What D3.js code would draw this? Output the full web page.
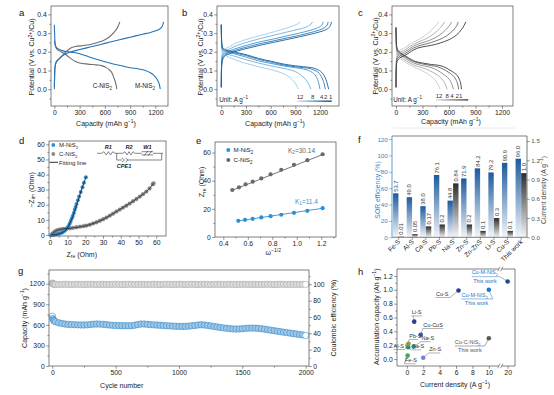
<!DOCTYPE html>
<html><head><meta charset="utf-8">
<script src="https://cdn.jsdelivr.net/npm/d3@7/dist/d3.min.js"></script>
<style>
body{margin:0;background:#fff}
svg text{font-family:"Liberation Sans",Arial,sans-serif}
</style></head>
<body>
<svg id="fig" width="554" height="395"></svg>
<script>
// ---- a: charge/discharge, [capacity, potential]
var aMDischarge = [[0,0.345],[2,0.31],[5,0.27],[10,0.24],[20,0.225],[50,0.215],[100,0.205],[200,0.198],[300,0.19],[400,0.175],[500,0.16],[600,0.147],[700,0.135],[800,0.125],[900,0.115],[1000,0.108],[1080,0.1],[1140,0.088],[1180,0.075],[1210,0.06],[1235,0.04],[1250,0.02],[1258,0]];
var aMCharge = [[0,0.01],[2,0.06],[5,0.1],[10,0.125],[25,0.145],[50,0.16],[100,0.18],[200,0.2],[300,0.212],[450,0.228],[600,0.245],[750,0.262],[900,0.278],[1050,0.294],[1150,0.305],[1220,0.315],[1260,0.325],[1285,0.34],[1298,0.36]];
var aCDischarge = [[0,0.26],[10,0.235],[30,0.215],[60,0.205],[100,0.195],[150,0.18],[200,0.162],[250,0.148],[300,0.14],[400,0.134],[500,0.13],[560,0.126],[610,0.117],[650,0.105],[680,0.09],[700,0.07],[720,0.045],[735,0.02],[742,0]];
var aCCharge = [[0,0],[3,0.07],[8,0.12],[20,0.145],[50,0.16],[100,0.182],[150,0.205],[200,0.222],[250,0.228],[350,0.234],[450,0.242],[530,0.252],[600,0.265],[660,0.282],[710,0.305],[750,0.33],[778,0.36]];

// ---- b, c: rate curves, order 12, 8, 4, 2, 1 A/g
var rates = ['12', '8', '4', '2', '1'];
var bDischarge = [
  [[0,0.345],[3,0.24],[8,0.205],[20,0.19],[60,0.178],[150,0.16],[300,0.138],[450,0.12],[600,0.105],[700,0.092],[780,0.078],[840,0.06],[885,0.04],[915,0.02],[935,0]],
  [[0,0.345],[3,0.25],[8,0.215],[20,0.2],[60,0.19],[150,0.178],[300,0.158],[450,0.14],[600,0.125],[750,0.112],[850,0.102],[920,0.09],[980,0.07],[1030,0.05],[1065,0.025],[1090,0]],
  [[0,0.345],[3,0.26],[8,0.225],[20,0.21],[60,0.2],[150,0.19],[300,0.172],[450,0.152],[600,0.138],[750,0.125],[900,0.115],[1000,0.108],[1060,0.1],[1110,0.088],[1150,0.07],[1180,0.04],[1200,0]],
  [[0,0.345],[3,0.27],[8,0.235],[20,0.215],[60,0.205],[150,0.195],[300,0.18],[450,0.16],[600,0.145],[750,0.13],[900,0.12],[1000,0.115],[1080,0.11],[1140,0.1],[1190,0.085],[1225,0.06],[1250,0.03],[1265,0]],
  [[0,0.345],[3,0.28],[8,0.24],[20,0.22],[60,0.21],[150,0.2],[300,0.185],[450,0.165],[600,0.15],[750,0.135],[900,0.125],[1000,0.12],[1100,0.115],[1170,0.105],[1220,0.09],[1260,0.065],[1285,0.035],[1305,0]]
];
var bCharge = [
  [[0,0.01],[2,0.12],[6,0.17],[15,0.195],[40,0.21],[100,0.228],[200,0.25],[350,0.272],[500,0.29],[650,0.308],[780,0.325],[880,0.34],[930,0.35],[960,0.36]],
  [[0,0.01],[2,0.11],[6,0.16],[15,0.185],[40,0.2],[100,0.215],[200,0.235],[350,0.256],[500,0.274],[650,0.29],[800,0.306],[950,0.322],[1050,0.336],[1090,0.348],[1110,0.36]],
  [[0,0.01],[2,0.1],[6,0.15],[15,0.175],[40,0.19],[100,0.205],[200,0.22],[350,0.24],[500,0.256],[650,0.27],[800,0.285],[950,0.3],[1080,0.315],[1170,0.328],[1220,0.342],[1240,0.36]],
  [[0,0.01],[2,0.09],[6,0.14],[15,0.165],[40,0.182],[100,0.197],[200,0.212],[350,0.23],[500,0.246],[650,0.26],[800,0.274],[950,0.288],[1080,0.302],[1180,0.315],[1250,0.328],[1285,0.342],[1300,0.36]],
  [[0,0.01],[2,0.08],[6,0.13],[15,0.155],[40,0.175],[100,0.19],[200,0.205],[350,0.222],[500,0.238],[650,0.252],[800,0.266],[950,0.28],[1100,0.295],[1200,0.307],[1270,0.318],[1310,0.33],[1330,0.345],[1340,0.36]]
];
var cDischarge = [
  [[0,0.33],[3,0.23],[8,0.195],[20,0.178],[50,0.162],[100,0.146],[150,0.132],[200,0.12],[260,0.107],[320,0.093],[380,0.075],[430,0.055],[470,0.03],[500,0]],
  [[0,0.33],[3,0.24],[8,0.205],[20,0.188],[50,0.172],[100,0.156],[150,0.142],[200,0.13],[280,0.117],[350,0.106],[410,0.092],[470,0.075],[520,0.055],[555,0.03],[580,0]],
  [[0,0.33],[3,0.25],[8,0.215],[20,0.197],[50,0.182],[100,0.167],[150,0.152],[200,0.14],[300,0.126],[380,0.118],[440,0.108],[500,0.092],[550,0.075],[600,0.055],[630,0.03],[650,0]],
  [[0,0.33],[3,0.26],[8,0.225],[20,0.205],[50,0.19],[100,0.175],[150,0.16],[200,0.148],[300,0.135],[400,0.126],[470,0.12],[530,0.108],[590,0.092],[640,0.075],[680,0.05],[700,0.025],[710,0]],
  [[0,0.33],[3,0.27],[8,0.23],[20,0.21],[50,0.195],[100,0.18],[150,0.165],[200,0.152],[300,0.14],[400,0.132],[480,0.128],[540,0.12],[600,0.105],[650,0.09],[690,0.075],[720,0.05],[735,0.025],[742,0]]
];
var cCharge = [
  [[0,0.01],[2,0.12],[6,0.17],[15,0.19],[40,0.205],[100,0.222],[150,0.238],[200,0.252],[260,0.267],[330,0.287],[390,0.31],[440,0.334],[470,0.35],[485,0.36]],
  [[0,0.01],[2,0.11],[6,0.16],[15,0.18],[40,0.195],[100,0.21],[150,0.226],[200,0.24],[260,0.254],[340,0.27],[410,0.29],[470,0.314],[520,0.338],[550,0.36]],
  [[0,0.01],[2,0.1],[6,0.15],[15,0.17],[40,0.185],[100,0.2],[150,0.215],[200,0.23],[260,0.243],[350,0.256],[430,0.272],[500,0.292],[560,0.316],[605,0.34],[630,0.36]],
  [[0,0.01],[2,0.09],[6,0.14],[15,0.16],[40,0.175],[100,0.19],[150,0.205],[200,0.22],[260,0.232],[350,0.243],[450,0.258],[540,0.276],[610,0.298],[660,0.322],[690,0.342],[705,0.36]],
  [[0,0.01],[2,0.08],[6,0.13],[15,0.15],[40,0.165],[100,0.18],[150,0.195],[200,0.21],[260,0.222],[350,0.23],[450,0.24],[550,0.255],[630,0.272],[690,0.292],[740,0.318],[770,0.34],[790,0.36]]
];

// ---- d: Nyquist [Zre, -Zim]
var dMNiS2 = [[1,0],[2,0.1],[3,0.3],[4,0.5],[5,0.8],[6,1.2],[7,1.7],[8,2.4],[9,3.4],[9.8,4.6],[10.5,6],[11.2,7.6],[11.8,9.3],[12.4,11],[12.9,12.6],[13.5,14.6],[14,16.6],[14.5,18.5],[15,20.5],[15.8,23],[16.5,25.4],[17.4,28.5],[18.4,31.6],[19.2,34.5],[20.3,38.2]];
var dCNiS2 = [[0.8,0],[1.5,0.8],[2.2,1.6],[2.8,2.2],[3.6,2.8],[4.7,3.3],[6,3.7],[7.5,4],[9.2,4.2],[11.3,4.4],[13,4.7],[15,5.1],[17,5.5],[19,5.9],[20.6,6.2],[22.5,6.8],[24.4,7.6],[26.3,8.4],[28.2,9.4],[30,10.4],[31.9,11.5],[33.8,12.8],[35.6,14.1],[37.5,15.5],[39.4,16.8],[41.2,18.1],[43.1,19.4],[45,20.8],[46.9,22.3],[48.8,23.8],[50.7,25.4],[52.5,27],[54.4,28.7],[56.2,30.8],[58.1,33.6],[58.5,34.2]];
var dMFit = [[1,0],[4,0.4],[7,1.6],[9,3.2],[10.5,5.8],[12,9.5],[13.5,14],[15,19.5],[16.5,25],[18,30.5],[19.5,35.5],[20.5,38.8]];
var dCFit = [[0.8,0],[2,1.4],[3.5,2.7],[5.5,3.6],[8,4.1],[11,4.4],[15,5],[20,6],[25,7.8],[30,10.3],[35,13.6],[40,17.3],[45,20.9],[50,24.8],[54,28.3],[56.5,31],[58.5,34.5]];

// ---- e: Zre vs w^-1/2
var eMX = [0.522,0.577,0.64,0.71,0.786,0.873,0.977,1.086,1.211];
var eMY = [11.5,12.2,12.9,13.9,14.8,15.8,17.2,18.6,20.5];
var eCX = [0.473,0.528,0.582,0.64,0.71,0.786,0.873,0.977,1.086,1.211];
var eCY = [33.4,35.3,37.4,39.3,41.6,44.5,47.8,51.3,54.6,58.8];
var eMFit = [[0.522,11.4],[1.211,20.4]];
var eCFit = [[0.473,33.2],[1.211,58.6]];

// ---- f: SOR efficiency and current density
var fCats = ['Fe-S','Al-S','Ca-S','Pb-S','Na-S','Zn-S','Zn-ZnS','Li-S','Cu-S','This work'];
var fSor = [53.7,49.0,38.0,76.1,44.8,71.9,84.2,79.2,90.9,96.0];
var fCurrent = [0.01,0.05,0.17,0.2,0.84,0.2,0.1,0.3,0.1,1.0];
var fSorLabels = ['53.7','49.0','38.0','76.1','44.8','71.9','84.2','79.2','90.9','96.0'];
var fCurLabels = ['0.01','0.05','0.17','0.2','0.84','0.2','0.1','0.3','0.1','1.0'];

// ---- g: cycling
var gCycles = [1,5,10,15,25,50,75,100,125,150,175,200,225,250,275,300,325,350,375,400,425,450,475,500,525,550,575,600,625,650,675,700,725,750,775,800,825,850,875,900,925,950,975,1000,1025,1050,1075,1100,1125,1150,1175,1200,1225,1250,1275,1300,1325,1350,1375,1400,1425,1450,1475,1500,1525,1550,1575,1600,1625,1650,1675,1700,1725,1750,1775,1800,1825,1850,1875,1900,1925,1950,1975,2000];
var gCapacity = [725,690,670,658,646,630,620,612,607,604,602,600,599,598,600,605,610,612,611,608,603,598,594,591,589,588,587,586,588,595,605,612,612,608,603,600,597,594,591,588,585,582,580,578,577,578,581,586,592,598,601,598,592,585,577,570,563,556,550,545,541,539,540,544,549,552,553,552,549,544,537,530,522,515,508,501,494,487,480,473,467,460,454,445];
var gCE = [101.5,100.6,100.2,100,99.9,99.8,99.9,100,99.9,99.8,99.9,100,99.9,99.8,99.9,100,99.9,99.8,99.9,100,99.9,99.8,99.9,100,99.9,99.8,99.9,100,99.9,99.8,99.9,100,99.9,99.8,99.9,100,99.9,99.8,99.9,100,99.9,99.8,99.9,100,99.9,99.8,99.9,100,99.9,99.8,99.9,100,99.9,99.8,99.9,100,99.9,99.8,99.9,100,99.9,99.8,99.9,100,99.9,99.8,99.9,100,99.9,99.8,99.9,100,99.9,99.8,99.9,100,99.9,99.8,99.9,100,99.9,99.8,99.9,99.9];

// ---- h: accumulation capacity vs current density
var hNames = ['Fe-S','Al-S','Ca-S','Pb-S','Na-S','Zn-S','Li-S','Cu-CuS','Cu-S','Cu-M-NiS2','Cu-C-NiS2','Cu-M-NiS2'];
var hCurrent = [0.1,0.05,0.17,0.2,0.84,2.0,0.9,1.7,6.3,10,10,20];
var hCapacity = [0.05,0.2,0.17,0.22,0.18,0.02,0.54,0.35,0.99,1.0,0.3,1.12];
var hThisWork = [false,false,false,false,false,false,false,false,false,true,true,true];

// ---- styles / layout
var ink = '#4a4a4a', txt = '#222';
var blue = '#2473b8', grey = '#6e6e6e';
var bColors = ['#9ccbea','#6fafdc','#4592cb','#2a7aba','#14609f'];
var cColors = ['#c8c8c8','#a8a8a8','#888888','#666666','#3c3c3c'];
var hColors = ['#3fae49','#b8bb3a','#2d8c78','#8e9a3c','#2a7f8f','#7a80d8','#2c3e8c','#3b52a5','#2d3f80','#1f78c9','#5a5a5a','#1f4d8a'];
// label offsets relative to each point: text pos, underline span / height, leader end
var hLayout = [
  {tx:-2.7,ty:6.6,u0:-3.5,u1:8,uy:8.1,lx:-3.5},
  {tx:-13.7,ty:2.8,u0:-13.7,u1:-2.5,uy:4.3,lx:-2.5},
  {tx:3.5,ty:1.2,u0:3,u1:13,uy:2.6,lx:3},
  {tx:0.8,ty:-5.8,u0:0.5,u1:9.5,uy:-4.3,lx:0.5},
  {tx:7.8,ty:-6.4,u0:7.3,u1:17,uy:-4.9,lx:7.3},
  {tx:6,ty:-6.2,u0:5.5,u1:17,uy:-4.7,lx:5.5},
  {tx:-2.5,ty:-7.2,u0:-3,u1:8,uy:-5.7,lx:-1},
  {tx:2.5,ty:-7.8,u0:2,u1:22.5,uy:-6.3,lx:2},
  {tx:-22.5,ty:5.5,u0:-23,u1:-8.5,uy:7,lx:-8.5},
  {tx:-27.3,ty:7.2,u0:-27.5,u1:4,uy:9.2,lx:4,wx:-24,wy:15.7},
  {tx:-34,ty:6,u0:-34,u1:-4,uy:7.7,lx:-4,wx:-30.7,wy:14.2},
  {tx:-36,ty:-7,u0:-36,u1:-8,uy:-4.8,lx:-8,wx:-34.5,wy:1.8}
];

var svg = d3.select('#fig');
var defs = svg.append('defs');
function grad(id, c0, c1, horiz) {
  var g = defs.append('linearGradient').attr('id', id)
    .attr('x1', 0).attr('y1', 0).attr('x2', horiz ? 1 : 0).attr('y2', horiz ? 0 : 1);
  g.append('stop').attr('offset', '0%').attr('stop-color', c0);
  g.append('stop').attr('offset', '100%').attr('stop-color', c1);
}
grad('gBlue', '#1c5a9c', '#f2f6fb');
grad('gGrey', '#2c2c2c', '#f4f4f4');
grad('gRateB', '#d3e7f5', '#14609f', true);
grad('gRateC', '#e6e6e6', '#555555', true);

// text with sub/superscripts: parts = [[text, 'sup'|'sub'|undefined], ...]
function rich(t, parts) {
  var cur = 0;
  parts.forEach(function(p) {
    var off = p[1] === 'sup' ? -2.6 : p[1] === 'sub' ? 1.6 : 0;
    var s = t.append('tspan').attr('dy', off - cur).text(p[0]);
    if (p[1]) s.attr('font-size', '0.72em');
    cur = off;
  });
  return t;
}
function label(g, x, y, parts, opt) {
  opt = opt || {};
  var t = g.append('text').attr('font-size', opt.size || 7).attr('fill', opt.color || txt)
    .attr('text-anchor', opt.anchor || 'start')
    .attr('transform', 'translate(' + x + ',' + y + ')' + (opt.rot ? ' rotate(' + opt.rot + ')' : ''));
  return rich(t, typeof parts === 'string' ? [[parts]] : parts);
}
function ticks(g, side, scale, major, minor, fmt, at, col, fs) {
  var gen = {b: d3.axisBottom, l: d3.axisLeft, r: d3.axisRight}[side];
  var tr = side === 'b' ? 'translate(0,' + at + ')' : 'translate(' + at + ',0)';
  [[minor, 1.6, null], [major, 2.8, fmt]].forEach(function(s) {
    if (!s[0] || !s[0].length) return;
    var a = g.append('g').attr('transform', tr)
      .call(gen(scale).tickValues(s[0]).tickSizeInner(s[1]).tickSizeOuter(0).tickPadding(1.5)
        .tickFormat(s[2] || function() { return ''; }));
    a.select('.domain').remove();
    a.selectAll('line').attr('stroke', col || ink).attr('stroke-width', 0.6);
    a.selectAll('text').attr('font-size', fs || 6.8).attr('fill', col || txt);
  });
}
function box(g, w, h) {
  g.append('rect').attr('width', w).attr('height', h).attr('fill', 'none')
    .attr('stroke', ink).attr('stroke-width', 0.7);
}
function letter(ch, x, y) {
  svg.append('text').attr('x', x).attr('y', y).attr('font-size', 9.5).attr('fill', '#111').text(ch);
}
var f1 = d3.format('.1f'), fd = d3.format('d');
var capT = [['Capacity (mAh g'], ['\u22121', 'sup'], [')']];
var potT = [['Potential (V vs. Cu'], ['2+', 'sup'], ['/Cu)']];

// ================= a =================
var ga = svg.append('g').attr('transform', 'translate(51,6)');
var xa = d3.scaleLinear().domain([-40, 1350]).range([0, 117]);
var ya = d3.scaleLinear().domain([-0.09, 0.445]).range([100, 0]);
var lineA = d3.line().x(function(d) { return xa(d[0]); }).y(function(d) { return ya(d[1]); }).curve(d3.curveMonotoneX);
[[aCDischarge, grey], [aCCharge, grey], [aMDischarge, blue], [aMCharge, blue]].forEach(function(s) {
  ga.append('path').attr('d', lineA(s[0])).attr('fill', 'none').attr('stroke', s[1]).attr('stroke-width', 1.1);
});
box(ga, 117, 100);
ticks(ga, 'b', xa, [0, 300, 600, 900, 1200], [150, 450, 750, 1050], fd, 100);
ticks(ga, 'l', ya, [0, 0.1, 0.2, 0.3, 0.4], [-0.05, 0.05, 0.15, 0.25, 0.35], f1, 0);
label(ga, xa(455), ya(0.005), [['C-NiS'], ['2', 'sub']], {size: 6.3});
label(ga, xa(957), ya(0.005), [['M-NiS'], ['2', 'sub']], {size: 6.3});
label(svg, 106, 125.5, capT, {anchor: 'middle'});
label(svg, 34.2, 57, potT, {anchor: 'middle', rot: -90});
letter('a', 19, 16);

// ================= b / c =================
function ratePanel(tx, w, xdom, dis, ch, colors, gradId, labelX, barX, unitX, lineY, barY) {
  var g = svg.append('g').attr('transform', 'translate(' + tx + ',6)');
  var x = d3.scaleLinear().domain(xdom).range([0, w]);
  var y = d3.scaleLinear().domain([-0.09, 0.445]).range([100, 0]);
  var ln = d3.line().x(function(d) { return x(d[0]); }).y(function(d) { return y(d[1]); }).curve(d3.curveMonotoneX);
  rates.forEach(function(r, i) {
    g.append('path').attr('d', ln(dis[i])).attr('fill', 'none').attr('stroke', colors[i]).attr('stroke-width', 0.9);
    g.append('path').attr('d', ln(ch[i])).attr('fill', 'none').attr('stroke', colors[i]).attr('stroke-width', 0.9);
  });
  box(g, w, 100);
  ticks(g, 'b', x, [0, 300, 600, 900, 1200], [150, 450, 750, 1050], fd, 100);
  ticks(g, 'l', y, [0, 0.1, 0.2, 0.3, 0.4], [-0.05, 0.05, 0.15, 0.25, 0.35], f1, 0);
  rates.forEach(function(r, i) {
    g.append('text').attr('x', x(labelX[i])).attr('y', y(lineY)).attr('font-size', 6)
      .attr('text-anchor', 'middle').attr('fill', '#333').text(r);
  });
  g.append('rect').attr('x', x(barX[0])).attr('width', x(barX[1]) - x(barX[0]))
    .attr('y', y(barY)).attr('height', 1.6).attr('fill', 'url(#' + gradId + ')');
  label(g, x(unitX), y(-0.0665), [['Unit: A g'], ['\u22121', 'sup']], {size: 6.3});
  return g;
}
ratePanel(217, 122, [-52, 1431], bDischarge, bCharge, bColors, 'gRateB',
  [957, 1111, 1221, 1270, 1330], [924, 1342], -24, -0.052, -0.06);
label(svg, 275, 125.5, capT, {anchor: 'middle'});
label(svg, 202.5, 57, potT, {anchor: 'middle', rot: -90});
letter('b', 182, 16);

ratePanel(392, 121, [-45, 1325], cDischarge, cCharge, cColors, 'gRateC',
  [487, 581, 634, 694, 732], [453, 818], -30, -0.046, -0.053);
label(svg, 451, 124, capT, {anchor: 'middle'});
label(svg, 377.5, 56, potT, {anchor: 'middle', rot: -90});
letter('c', 358, 16);
svg.append('line').attr('x1', 393).attr('x2', 515).attr('y1', 128).attr('y2', 128)
  .attr('stroke', '#e6e6e6').attr('stroke-width', 0.8);

// ================= d =================
var gd = svg.append('g').attr('transform', 'translate(49,141)');
var xd = d3.scaleLinear().domain([-0.5, 65.5]).range([0, 117]);
var yd = d3.scaleLinear().domain([-0.7, 62.2]).range([95, 0]);
var lineD = d3.line().x(function(d) { return xd(d[0]); }).y(function(d) { return yd(d[1]); }).curve(d3.curveCatmullRom);
gd.selectAll('.pc').data(dCNiS2).enter().append('circle')
  .attr('cx', function(d) { return xd(d[0]); }).attr('cy', function(d) { return yd(d[1]); })
  .attr('r', 1.9).attr('fill', '#8a8a8a').attr('stroke', '#666').attr('stroke-width', 0.3);
gd.selectAll('.pm').data(dMNiS2).enter().append('circle')
  .attr('cx', function(d) { return xd(d[0]); }).attr('cy', function(d) { return yd(d[1]); })
  .attr('r', 2).attr('fill', '#2f8fd3');
gd.append('path').attr('d', lineD(dCFit)).attr('fill', 'none').attr('stroke', '#333').attr('stroke-width', 0.9);
gd.append('path').attr('d', lineD(dMFit)).attr('fill', 'none').attr('stroke', '#222').attr('stroke-width', 0.9);
box(gd, 117, 95);
ticks(gd, 'b', xd, [0, 10, 20, 30, 40, 50, 60], [5, 15, 25, 35, 45, 55], fd, 95);
ticks(gd, 'l', yd, [0, 10, 20, 30, 40, 50, 60], [5, 15, 25, 35, 45, 55], fd, 0);
// legend
gd.append('circle').attr('cx', 4.3).attr('cy', 4).attr('r', 1.9).attr('fill', '#2f8fd3');
label(gd, 10, 6.2, [['M-NiS'], ['2', 'sub']], {size: 6});
gd.append('circle').attr('cx', 4.3).attr('cy', 13).attr('r', 1.9).attr('fill', '#8a8a8a');
label(gd, 10, 15.2, [['C-NiS'], ['2', 'sub']], {size: 6});
gd.append('line').attr('x1', 0.5).attr('x2', 9).attr('y1', 21.3).attr('y2', 21.3).attr('stroke', '#333').attr('stroke-width', 1);
label(gd, 10, 23.5, 'Fitting line', {size: 6});
// equivalent circuit
(function() {
  var c = gd.append('g').attr('fill', 'none').attr('stroke', '#333').attr('stroke-width', 0.6);
  var y0 = 12.3, y1 = 19;
  function zig(x0, x1) {
    var n = 6, dx = (x1 - x0) / n, d = 'M' + x0 + ',' + y0;
    for (var i = 1; i < n; i++) d += ' L' + (x0 + dx * i) + ',' + (y0 + (i % 2 ? -1.6 : 1.6));
    return d + ' L' + x1 + ',' + y0;
  }
  c.append('path').attr('d', 'M48,' + y0 + ' H52.7' + zig(52.7, 66).replace('M', ' L') + ' H74' + zig(74, 86).replace('M', ' L') + ' H92.7 M104,' + y0 + ' H114');
  c.append('path').attr('d', 'M92.7,' + (y0 + 1.6) + ' L104,' + (y0 + 1.6) + ' M92.7,' + (y0 - 1.6) + ' L104,' + (y0 - 1.6) + ' M95,' + (y0 + 2.4) + ' L99,' + (y0 - 2.4) + ' M99,' + (y0 + 2.4) + ' L103,' + (y0 - 2.4));
  c.append('path').attr('d', 'M67.7,' + y0 + ' V' + y1 + ' H73 M79,' + y1 + ' H112.7 V' + y0);
  c.append('path').attr('d', 'M73,' + (y1 - 2) + ' L75.5,' + y1 + ' L73,' + (y1 + 2) + ' M76.5,' + (y1 - 2) + ' L79,' + y1 + ' L76.5,' + (y1 + 2));
  [['R1', 59.3, 7.5], ['R2', 80, 7.5], ['W1', 98.5, 7.5], ['CPE1', 75, 27.3]].forEach(function(t) {
    gd.append('text').attr('x', t[1]).attr('y', t[2]).attr('font-size', 5.6).attr('font-weight', 'bold')
      .attr('font-style', 'italic').attr('text-anchor', 'middle').attr('fill', '#222').text(t[0]);
  });
})();
label(svg, 81.7, 256.5, [['Z'], ['re', 'sub'], [' (Ohm)']], {anchor: 'middle'});
label(svg, 33.5, 190, [['\u2212Z'], ['im', 'sub'], [' (Ohm)']], {anchor: 'middle', rot: -90});
letter('d', 19, 144);

// ================= e =================
var ge = svg.append('g').attr('transform', 'translate(215,142)');
var xe = d3.scaleLinear().domain([0.332, 1.32]).range([0, 121]);
var ye = d3.scaleLinear().domain([0, 67.5]).range([95, 0]);
var lineE = d3.line().x(function(d) { return xe(d[0]); }).y(function(d) { return ye(d[1]); });
ge.append('path').attr('d', lineE(eCFit)).attr('stroke', '#666').attr('stroke-width', 0.9);
ge.append('path').attr('d', lineE(eMFit)).attr('stroke', '#2f8fd3').attr('stroke-width', 0.9);
ge.selectAll('.ec').data(eCX).enter().append('circle')
  .attr('cx', function(d) { return xe(d); }).attr('cy', function(d, i) { return ye(eCY[i]); })
  .attr('r', 2.1).attr('fill', '#6a6a6a');
ge.selectAll('.em').data(eMX).enter().append('circle')
  .attr('cx', function(d) { return xe(d); }).attr('cy', function(d, i) { return ye(eMY[i]); })
  .attr('r', 2.1).attr('fill', '#2f8fd3');
box(ge, 121, 95);
ticks(ge, 'b', xe, [0.4, 0.6, 0.8, 1.0, 1.2], [0.5, 0.7, 0.9, 1.1, 1.3], f1, 95);
ticks(ge, 'l', ye, [0, 20, 40, 60], [10, 30, 50], fd, 0);
ge.append('circle').attr('cx', 13.3).attr('cy', 8).attr('r', 2).attr('fill', '#2f8fd3');
label(ge, 18.5, 10.2, [['M-NiS'], ['2', 'sub']], {size: 6.2});
ge.append('circle').attr('cx', 13.3).attr('cy', 18).attr('r', 2).attr('fill', '#6a6a6a');
label(ge, 18.5, 20.2, [['C-NiS'], ['2', 'sub']], {size: 6.2});
label(ge, 73, 10.5, [['K'], ['2', 'sub'], ['=30.14']], {size: 6.5, color: '#666'});
label(ge, 80, 61.5, [['K'], ['1', 'sub'], ['=11.4']], {size: 6.5, color: '#2f8fd3'});
label(svg, 273.3, 254.5, [['\u03c9'], ['\u22121/2', 'sup']], {anchor: 'middle'});
label(svg, 204, 182, [['Z'], ['re', 'sub'], [' (Ohm)']], {anchor: 'middle', rot: -90});
letter('e', 196, 144);

// ================= f =================
var fblue = '#3a86c6';
var gf = svg.append('g').attr('transform', 'translate(392,136)');
var fw = 135, fh = 101.3;
var xf = d3.scaleBand().domain(fCats).range([0.8, fw]).paddingInner(0.18).paddingOuter(0.02);
var yfL = d3.scaleLinear().domain([0, 123.7]).range([fh, 0]);
var yfR = d3.scaleLinear().domain([0, 1.578]).range([fh, 0]);
var bw = xf.bandwidth() / 2;
gf.selectAll('.bs').data(fSor).enter().append('rect')
  .attr('x', function(d, i) { return xf(fCats[i]); }).attr('width', bw - 0.2)
  .attr('y', function(d) { return yfL(d); }).attr('height', function(d) { return fh - yfL(d); })
  .attr('fill', 'url(#gBlue)');
gf.selectAll('.bc').data(fCurrent).enter().append('rect')
  .attr('x', function(d, i) { return xf(fCats[i]) + bw; }).attr('width', bw - 0.2)
  .attr('y', function(d) { return yfR(d); }).attr('height', function(d) { return fh - yfR(d); })
  .attr('fill', 'url(#gGrey)');
fSor.forEach(function(v, i) {
  label(gf, xf(fCats[i]) + bw / 2 + 2, yfL(v) - 1.5, fSorLabels[i], {size: 5.8, rot: -90, color: '#333'});
  label(gf, xf(fCats[i]) + bw * 1.5 + 2, yfR(fCurrent[i]) - 2, fCurLabels[i], {size: 5.8, rot: -90, color: '#333'});
});
gf.append('line').attr('x1', 0).attr('x2', fw).attr('y1', 0).attr('y2', 0).attr('stroke', ink).attr('stroke-width', 0.7);
gf.append('line').attr('x1', 0).attr('x2', fw).attr('y1', fh).attr('y2', fh).attr('stroke', ink).attr('stroke-width', 0.7);
gf.append('line').attr('x1', 0).attr('x2', 0).attr('y1', 0).attr('y2', fh).attr('stroke', fblue).attr('stroke-width', 0.8);
gf.append('line').attr('x1', fw).attr('x2', fw).attr('y1', 0).attr('y2', fh).attr('stroke', '#555').attr('stroke-width', 0.8);
ticks(gf, 'l', yfL, [0, 20, 40, 60, 80, 100, 120], [], fd, 0, fblue, 6.2);
ticks(gf, 'r', yfR, [0, 0.3, 0.6, 0.9, 1.2, 1.5], [], f1, fw, '#555', 6.2);
var fx = gf.append('g').attr('transform', 'translate(0,' + fh + ')')
  .call(d3.axisBottom(xf).tickSizeInner(2.5).tickSizeOuter(0));
fx.select('.domain').remove();
fx.selectAll('line').attr('stroke', ink).attr('stroke-width', 0.6);
fx.selectAll('text').attr('font-size', 6.5).attr('fill', txt).attr('text-anchor', 'end')
  .attr('dy', null).attr('y', 0).attr('transform', 'translate(2,5) rotate(-45)');
label(svg, 379.5, 190, 'SOR efficiency (%)', {anchor: 'middle', rot: -90, color: fblue, size: 6.8});
label(svg, 546, 190, [['Current density (A g'], ['\u22121', 'sup'], [')']], {anchor: 'middle', rot: -90, color: '#444', size: 6.8});
letter('f', 358, 143);

// ================= g =================
var gg = svg.append('g').attr('transform', 'translate(49,270)');
var gw = 260, gh = 96;
var xg = d3.scaleLinear().domain([-26, 2026]).range([0, gw]);
var ygL = d3.scaleLinear().domain([0, 1400]).range([gh, 0]);
var ygR = d3.scaleLinear().domain([0, 117.5]).range([gh, 0]);
var lastG = gCycles.length - 1;
gg.selectAll('.ce').data(gCE).enter().append('circle')
  .attr('cx', function(d, i) { return xg(gCycles[i]); }).attr('cy', function(d) { return ygR(d); })
  .attr('r', 3.2).attr('fill', function(d, i) { return i === lastG ? '#fff' : '#dcdcdc'; })
  .attr('stroke', '#a6a6a6').attr('stroke-width', 0.6);
gg.selectAll('.cap').data(gCapacity).enter().append('circle')
  .attr('cx', function(d, i) { return xg(gCycles[i]); }).attr('cy', function(d) { return ygL(d); })
  .attr('r', 3.2).attr('fill', function(d, i) { return (i === 0 || i === lastG) ? '#fff' : '#9cc8e9'; })
  .attr('stroke', '#3b87c4').attr('stroke-width', 0.6);
box(gg, gw, gh);
ticks(gg, 'b', xg, [0, 500, 1000, 1500, 2000], [250, 750, 1250, 1750], fd, gh);
ticks(gg, 'l', ygL, [0, 300, 600, 900, 1200], [150, 450, 750, 1050, 1350], fd, 0);
ticks(gg, 'r', ygR, [0, 20, 40, 60, 80, 100], [10, 30, 50, 70, 90, 110], fd, gw);
label(svg, 121.7, 388, 'Cycle number', {anchor: 'middle'});
label(svg, 26.5, 318, capT, {anchor: 'middle', rot: -90});
label(svg, 336, 318, 'Coulombic efficiency (%)', {anchor: 'middle', rot: -90});
letter('g', 18, 274);

// ================= h =================
var gh2 = svg.append('g').attr('transform', 'translate(397,269)');
var hw = 118, hh = 97, brk = 103.3;
var xhL = d3.scaleLinear().domain([-1.2, 11.4]).range([0, brk]);
var xhR = d3.scaleLinear().domain([19, 21]).range([brk, hw]);
function xh(v) { return v > 15 ? xhR(v) : xhL(v); }
var yh = d3.scaleLinear().domain([-0.1, 1.3]).range([hh, 0]);
var hLine = '#666';
hNames.forEach(function(n, i) {
  var px = xh(hCurrent[i]), py = yh(hCapacity[i]), L = hLayout[i];
  var tc = hThisWork[i] ? (i === 10 ? '#555' : '#2a78c2') : '#333';
  gh2.append('line').attr('x1', px + L.u0).attr('x2', px + L.u1).attr('y1', py + L.uy).attr('y2', py + L.uy)
    .attr('stroke', hThisWork[i] ? tc : hLine).attr('stroke-width', 0.5);
  gh2.append('line').attr('x1', px + L.lx).attr('y1', py + L.uy).attr('x2', px).attr('y2', py)
    .attr('stroke', hThisWork[i] ? tc : hLine).attr('stroke-width', 0.5);
  var parts = n.slice(-4) === 'NiS2' ? [[n.slice(0, -1)], ['2', 'sub']] : [[n]];
  label(gh2, px + L.tx, py + L.ty, parts, {size: 5.5, color: tc});
  if (hThisWork[i]) label(gh2, px + L.wx, py + L.wy, 'This work', {size: 5.5, color: tc});
});
gh2.selectAll('.hp').data(hCapacity).enter().append('circle')
  .attr('cx', function(d, i) { return xh(hCurrent[i]); }).attr('cy', function(d) { return yh(d); })
  .attr('r', 2.3).attr('fill', function(d, i) { return hColors[i]; });
gh2.append('path').attr('fill', 'none').attr('stroke', ink).attr('stroke-width', 0.7)
  .attr('d', 'M' + (brk - 1.4) + ',0 H0 V' + hh + ' H' + (brk - 1.4) + ' M' + (brk + 1.4) + ',' + hh + ' H' + hw + ' V0 H' + (brk + 1.4));
[0, hh].forEach(function(yy) {
  [-1.4, 1.4].forEach(function(o) {
    gh2.append('line').attr('x1', brk + o - 1.3).attr('y1', yy + 2.3).attr('x2', brk + o + 1.3).attr('y2', yy - 2.3)
      .attr('stroke', ink).attr('stroke-width', 0.6);
  });
});
ticks(gh2, 'b', xhL, [0, 2, 4, 6, 8, 10], [], fd, hh);
ticks(gh2, 'b', xhR, [20], [], fd, hh);
ticks(gh2, 'l', yh, [0, 0.2, 0.4, 0.6, 0.8, 1.0, 1.2], [0.1, 0.3, 0.5, 0.7, 0.9, 1.1], f1, 0);
label(svg, 455, 386.5, [['Current density (A g'], ['\u22121', 'sup'], [')']], {anchor: 'middle'});
label(svg, 378.5, 316.7, [['Accumulation capacity (Ah g'], ['\u22121', 'sup'], [')']], {anchor: 'middle', rot: -90});
letter('h', 358, 275);
</script>
</body></html>
